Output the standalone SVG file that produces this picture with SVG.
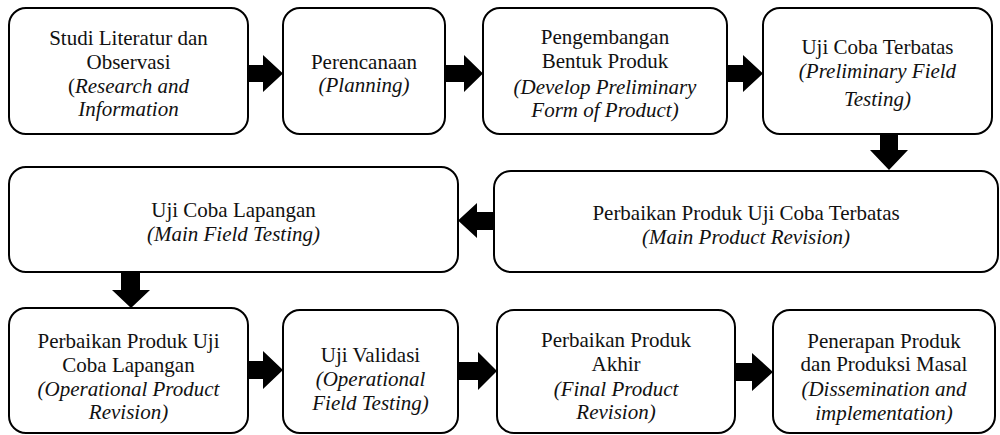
<svg xmlns="http://www.w3.org/2000/svg" width="1000" height="435" viewBox="0 0 1000 435">
<style>
.box{fill:#fff;stroke:#000;stroke-width:2}
.t text{font-size:21px;fill:#111;text-anchor:middle}
.i{font-style:italic}
.arr{fill:#000}
</style>
<g id="connectors">
<polygon class="arr" points="248,65 263,65 263,55 283,73.5 263,92 263,82 248,82"/>
<polygon class="arr" points="446,65 464,65 464,55 483,73.5 464,92 464,82 446,82"/>
<polygon class="arr" points="727,65 743,65 743,55 763,73.5 743,92 743,82 727,82"/>
<polygon class="arr" points="880,135 898,135 898,150 908,150 889,170 870,150 880,150"/>
<polygon class="arr" points="494,212 477,212 477,203 458,220.5 477,238 477,230 494,230"/>
<polygon class="arr" points="121,272 140,272 140,290 150,290 131,308 112,290 121,290"/>
<polygon class="arr" points="248,361 263,361 263,351 283,370 263,389 263,379 248,379"/>
<polygon class="arr" points="458,362 478,362 478,352 497,371 478,390 478,380 458,380"/>
<polygon class="arr" points="735,363 752,363 752,353 773,372 752,391 752,381 735,381"/>
</g>
<g class="t" font-family="'Liberation Serif', 'Times New Roman', 'DejaVu Serif', serif">
<g id="n1"><rect class="box" x="9" y="8" width="239" height="126" rx="17"/>
<text x="128.5" y="45">Studi Literatur dan</text>
<text x="128.5" y="69">Observasi</text>
<text x="128.5" y="93">(<tspan class="i">Research and</tspan></text>
<text x="128.5" y="116" class="i">Information</text></g>
<g id="n2"><rect class="box" x="283" y="8" width="162" height="126" rx="17"/>
<text x="364" y="69">Perencanaan</text>
<text x="364" y="92" class="i">(Planning)</text></g>
<g id="n3"><rect class="box" x="483" y="8" width="244" height="126" rx="17"/>
<text x="605" y="44">Pengembangan</text>
<text x="605" y="68">Bentuk Produk</text>
<text x="605" y="94" class="i">(Develop Preliminary</text>
<text x="605" y="117" class="i">Form of Product)</text></g>
<g id="n4"><rect class="box" x="763" y="8" width="229" height="126" rx="17"/>
<text x="877.5" y="54">Uji Coba Terbatas</text>
<text x="877.5" y="78" class="i">(Preliminary Field</text>
<text x="877.5" y="106" class="i">Testing)</text></g>
<g id="n5"><rect class="box" x="9" y="167" width="449" height="105" rx="17"/>
<text x="233.5" y="217">Uji Coba Lapangan</text>
<text x="233.5" y="241" class="i">(Main Field Testing)</text></g>
<g id="n6"><rect class="box" x="494" y="171" width="504" height="101" rx="17"/>
<text x="746" y="220">Perbaikan Produk Uji Coba Terbatas</text>
<text x="746" y="244" class="i">(Main Product Revision)</text></g>
<g id="n7"><rect class="box" x="9" y="308" width="239" height="125" rx="17"/>
<text x="128.5" y="348">Perbaikan Produk Uji</text>
<text x="128.5" y="372">Coba Lapangan</text>
<text x="128.5" y="396" class="i">(Operational Product</text>
<text x="128.5" y="419" class="i">Revision)</text></g>
<g id="n8"><rect class="box" x="283" y="310" width="175" height="123" rx="17"/>
<text x="370.5" y="362">Uji Validasi</text>
<text x="370.5" y="386" class="i">(Operational</text>
<text x="370.5" y="410" class="i">Field Testing)</text></g>
<g id="n9"><rect class="box" x="497" y="310" width="238" height="123" rx="17"/>
<text x="616" y="347">Perbaikan Produk</text>
<text x="616" y="371">Akhir</text>
<text x="616" y="396" class="i">(Final Product</text>
<text x="616" y="419" class="i">Revision)</text></g>
<g id="n10"><rect class="box" x="773" y="310" width="222" height="123" rx="17"/>
<text x="884" y="348">Penerapan Produk</text>
<text x="884" y="371">dan Produksi Masal</text>
<text x="884" y="396" class="i">(Dissemination and</text>
<text x="884" y="420" class="i">implementation)</text></g>
</g>
</svg>
